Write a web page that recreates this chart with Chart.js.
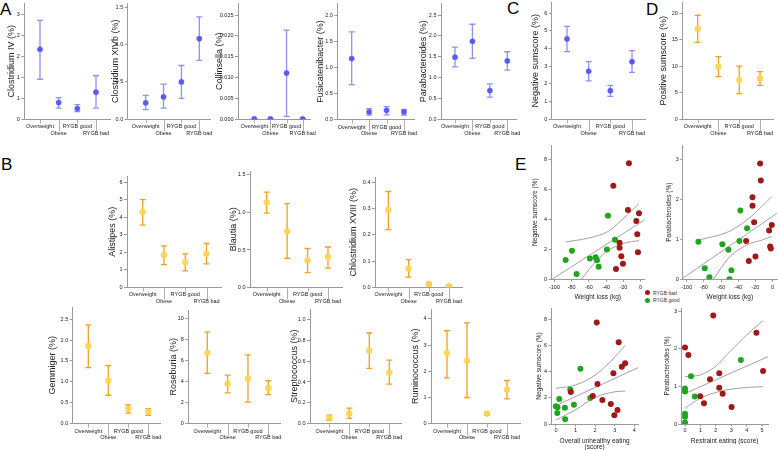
<!DOCTYPE html>
<html>
<head>
<meta charset="utf-8">
<script src="https://cdn.jsdelivr.net/npm/chart.js@4.4.1/dist/chart.umd.min.js"></script>
<style>
  html, body { margin: 0; padding: 0; background: #fff; }
  #fig { position: relative; width: 778px; height: 450px; overflow: hidden; font-family: 'Liberation Sans', Arial, sans-serif; }
  #fig canvas { position: absolute; }
  .letter { position: absolute; font-size: 17px; line-height: 17px; color: #000; }
  .key { position: absolute; font-size: 5px; line-height: 6px; color: #333; white-space: nowrap; }
  .key i { position: absolute; left: -8px; top: 0.5px; width: 5px; height: 5px; border-radius: 50%; }
</style>
</head>
<body>
<div id="fig">
  <div class="letter" style="left:0px;top:0.8px">A</div>
  <div class="letter" style="left:1px;top:156px">B</div>
  <div class="letter" style="left:507px;top:0px">C</div>
  <div class="letter" style="left:646px;top:1px">D</div>
  <div class="letter" style="left:515px;top:156px">E</div>
  <div class="key" style="left:653px;top:289.5px"><i style="background:#a01818"></i>RYGB bad</div>
  <div class="key" style="left:653px;top:297px"><i style="background:#1fa51f"></i>RYGB good</div>
</div>
<script>
// Groups shown on every dot plot
const groups = ['Overweight', 'Obese', 'RYGB good', 'RYGB bad'];

// Panel A (mean with error bar: low / high)
const clostridiumIVMean = [2.01, 0.48, 0.31, 0.78];
const clostridiumIVLow = [1.15, 0.32, 0.22, 0.32];
const clostridiumIVHigh = [2.84, 0.62, 0.42, 1.25];
const clostridiumIVTicks = [0, 0.6, 1.2, 1.8, 2.4, 3.0];
const clostridiumIVTickLabels = ['0', '1', '1', '2', '2', '3'];

const clostridiumXIVbMean = [0.22, 0.30, 0.50, 1.08];
const clostridiumXIVbLow = [0.13, 0.15, 0.28, 0.79];
const clostridiumXIVbHigh = [0.32, 0.47, 0.72, 1.37];
const clostridiumXIVbTicks = [0, 0.5, 1.0, 1.5];
const clostridiumXIVbTickLabels = ['0.0', '0.5', '1.0', '1.5'];

const collinsellaMean = [0.0001, 0.0001, 0.0111, 0.0001];
const collinsellaLow = [0.0, 0.0, 0.0007, 0.0];
const collinsellaHigh = [0.0002, 0.0002, 0.0214, 0.0002];
const collinsellaTicks = [0, 0.005, 0.010, 0.015, 0.020, 0.025];
const collinsellaTickLabels = ['0.000', '0.005', '0.010', '0.015', '0.020', '0.025'];

const fusicatenibacterMean = [1.17, 0.15, 0.18, 0.15];
const fusicatenibacterLow = [0.67, 0.09, 0.095, 0.09];
const fusicatenibacterHigh = [1.68, 0.215, 0.25, 0.20];
const fusicatenibacterTicks = [0, 0.5, 1.0, 1.5, 2.0];
const fusicatenibacterTickLabels = ['0.0', '0.5', '1.0', '1.5', '2.0'];

const parabacteroidesMean = [1.49, 1.87, 0.69, 1.40];
const parabacteroidesLow = [1.26, 1.46, 0.53, 1.18];
const parabacteroidesHigh = [1.73, 2.28, 0.85, 1.62];
const parabacteroidesTicks = [0, 0.5, 1.0, 1.5, 2.0, 2.5];
const parabacteroidesTickLabels = ['0.0', '0.5', '1.0', '1.5', '2.0', '2.5'];

// Panel C and D
const negativeMean = [4.55, 2.72, 1.62, 3.26];
const negativeLow = [3.83, 2.17, 1.30, 2.66];
const negativeHigh = [5.26, 3.26, 1.92, 3.89];
const negativeTicks = [0, 1, 2, 3, 4, 5, 6];
const negativeTickLabels = ['0', '1', '2', '3', '4', '5', '6'];

const positiveMean = [17.0, 9.9, 7.4, 7.7];
const positiveLow = [14.5, 8.05, 4.85, 6.4];
const positiveHigh = [19.6, 11.8, 10.0, 9.0];
const positiveTicks = [0, 5, 10, 15, 20];
const positiveTickLabels = ['0', '5', '10', '15', '20'];

// Panel B
const alistipesMean = [4.29, 1.85, 1.45, 1.94];
const alistipesLow = [3.56, 1.31, 0.95, 1.35];
const alistipesHigh = [5.01, 2.38, 1.92, 2.51];
const alistipesTicks = [0, 1, 2, 3, 4, 5, 6];
const alistipesTickLabels = ['0', '1', '2', '3', '4', '5', '6'];

const blautiaMean = [1.13, 0.75, 0.36, 0.41];
const blautiaLow = [0.99, 0.39, 0.20, 0.26];
const blautiaHigh = [1.27, 1.115, 0.52, 0.54];
const blautiaTicks = [0, 0.5, 1.0, 1.5];
const blautiaTickLabels = ['0.0', '0.5', '1.0', '1.5'];

const chlostridiumMean = [0.295, 0.072, 0.014, 0.005];
const chlostridiumLow = [0.22, 0.04, 0.008, 0.003];
const chlostridiumHigh = [0.365, 0.106, 0.019, 0.007];
const chlostridiumTicks = [0, 0.1, 0.2, 0.3, 0.4];
const chlostridiumTickLabels = ['0.0', '0.1', '0.2', '0.3', '0.4'];

const gemmigerMean = [1.855, 1.03, 0.36, 0.29];
const gemmigerLow = [1.34, 0.68, 0.255, 0.20];
const gemmigerHigh = [2.365, 1.39, 0.45, 0.36];
const gemmigerTicks = [0, 0.5, 1.0, 1.5, 2.0, 2.5];
const gemmigerTickLabels = ['0.0', '0.5', '1.0', '1.5', '2.0', '2.5'];

const roseburiaMean = [6.72, 3.79, 4.30, 3.41];
const roseburiaLow = [4.78, 2.93, 2.04, 2.77];
const roseburiaHigh = [8.69, 4.62, 6.53, 4.08];
const roseburiaTicks = [0, 2, 4, 6, 8, 10];
const roseburiaTickLabels = ['0', '2', '4', '6', '8', '10'];

const streptococcusMean = [0.057, 0.099, 0.70, 0.49];
const streptococcusLow = [0.032, 0.051, 0.53, 0.38];
const streptococcusHigh = [0.083, 0.15, 0.87, 0.61];
const streptococcusTicks = [0, 0.2, 0.4, 0.6, 0.8, 1.0];
const streptococcusTickLabels = ['0.0', '0.2', '0.4', '0.6', '0.8', '1.0'];

const ruminococcusMean = [2.7, 2.4, 0.38, 1.3];
const ruminococcusLow = [1.75, 1.0, 0.33, 0.95];
const ruminococcusHigh = [3.55, 3.85, 0.43, 1.65];
const ruminococcusTicks = [0, 1, 2, 3, 4];
const ruminococcusTickLabels = ['0', '1', '2', '3', '4'];

// Panel E scatter data
const e1BadX = [-13.6, -31.7, -14.7, -1.9, -5.0, -3.9, -24.4, -24.4, -22.4, -3.1, -20.5, -28.6];
const e1BadY = [7.73, 6.24, 4.62, 4.40, 3.89, 3.0, 2.44, 2.11, 1.53, 1.80, 1.04, 0.69];
const e1GoodX = [-37.9, -29.8, -39.1, -79.7, -87.0, -58.8, -52.2, -50.7, -48.7, -74.3];
const e1GoodY = [4.24, 2.64, 1.98, 1.91, 1.29, 1.38, 1.47, 1.27, 0.84, 0.36];
const e1FitX = [-104, 4.6];
const e1FitY = [-0.04, 3.96];
const e1UpperX = [-87, -62, -38, -19, -1.9];
const e1UpperY = [2.49, 2.73, 3.18, 4.1, 5.05];
const e1LowerX = [-69, -50.3, -37.9, -19.3, -1.9];
const e1LowerY = [0, 1.29, 1.91, 2.4, 2.58];

const e2BadX = [-14.4, -13.6, -23.3, -23.3, -21.4, -0.8, -3.9, -30.7, -2.7, -1.9, -19.8, -27.6];
const e2BadY = [2.9, 2.47, 2.05, 1.84, 1.43, 1.36, 1.22, 0.96, 0.82, 0.77, 0.57, 0.46];
const e2GoodX = [-37.4, -29.6, -38.5, -86.4, -58.4, -51.4, -79.0, -47.9, -73.5, -50.2];
const e2GoodY = [1.72, 1.28, 0.96, 0.94, 0.875, 0.74, 0.275, 0.225, 0.05, 0.0];
const e2FitX = [-104.7, 5.1];
const e2FitY = [0.025, 1.65];
const e2UpperX = [-86.4, -51.4, -30, -12.5, -0.8];
const e2UpperY = [0.98, 1.19, 1.48, 1.82, 2.07];
const e2LowerX = [-68.9, -51.4, -30, -12.5, -0.8];
const e2LowerY = [0, 0.525, 0.86, 0.98, 1.07];

const e3BadX = [2.08, 3.20, 3.53, 3.36, 2.93, 2.12, 0.76, 1.88, 2.37, 2.80, 3.14, 2.98];
const e3BadY = [7.74, 6.24, 4.64, 4.37, 3.88, 3.05, 2.44, 2.13, 1.83, 1.52, 1.07, 0.66];
const e3GoodX = [1.25, 0.73, 0.17, 1.75, 0.92, 0.0, 0.08, 0.46, 0.07, 0.47];
const e3GoodY = [4.21, 2.64, 1.90, 1.98, 1.47, 1.35, 1.27, 1.24, 0.84, 0.36];
const e3FitX = [0, 4.2];
const e3FitY = [1.40, 4.31];
const e3UpperX = [0, 0.98, 2.0, 3.02, 3.53];
const e3UpperY = [2.72, 2.97, 3.73, 5.13, 6.0];
const e3LowerX = [0, 0.98, 2.0, 3.02, 3.53];
const e3LowerY = [0.3, 1.07, 2.03, 2.46, 2.51];

const e4BadX = [1.83, 4.63, 0, 0.22, 0.99, 1.62, 2.22, 2.22, 2.44, 1.23, 3.02, 5.06];
const e4BadY = [2.88, 2.42, 2.03, 1.83, 0.74, 1.19, 1.35, 0.96, 0.80, 0.55, 0.45, 1.41];
const e4GoodX = [0.39, 0, 0, 0.63, 3.62, 0, 0, 0];
const e4GoodY = [1.27, 0.94, 0.86, 0.73, 1.70, 0.27, 0.19, 0.04];
const e4FitX = [0, 5.39];
const e4FitY = [0.81, 1.79];
const e4UpperX = [0, 0.97, 1.94, 2.91, 3.99, 5.06];
const e4UpperY = [1.26, 1.30, 1.52, 1.92, 2.36, 2.75];
const e4LowerX = [0, 0.97, 1.94, 2.91, 3.99, 5.06];
const e4LowerY = [0.42, 0.68, 0.83, 0.92, 0.97, 0.99];

const weightTicks = [-100, -80, -60, -40, -20, 0];
const weightTickLabels = ['-100', '-80', '-60', '-40', '-20', '0'];

// Styling
const axisGrey = '#9a9a9a';
const blueTheme = { bar: 'rgba(125,125,242,0.85)', point: '#5a5af4', border: '#5a5af4', radius: 2.6, cap: 3 };
const orangeTheme = { bar: '#f2a024', point: 'rgba(255,214,80,0.9)', border: 'rgba(250,200,70,0.9)', radius: 3, cap: 3 };
const badColor = '#a01818';
const goodColor = '#1fa51f';
const fitColor = '#8a8a8a';

Chart.defaults.font.family = "'Liberation Sans', Arial, sans-serif";
Chart.defaults.color = '#333';
Chart.defaults.animation = false;
Chart.defaults.responsive = false;
Chart.defaults.plugins.legend.display = false;
Chart.defaults.plugins.tooltip.enabled = false;

const fig = document.getElementById('fig');

function addCanvas(left, top, width, height) {
  const c = document.createElement('canvas');
  c.width = width;
  c.height = height;
  c.style.left = left + 'px';
  c.style.top = top + 'px';
  c.style.width = width + 'px';
  c.style.height = height + 'px';
  fig.appendChild(c);
  return c;
}

// Vertical error bars, drawn behind the mean markers
const errorBars = {
  id: 'errorBars',
  beforeDatasetsDraw(chart) {
    const { ctx } = chart;
    const xs = chart.scales.x;
    const ys = chart.scales.y;
    chart.data.datasets.forEach(ds => {
      if (!ds.errLow) return;
      ctx.save();
      ctx.strokeStyle = ds.errColor;
      ctx.lineWidth = 1.3;
      ds.data.forEach((p, i) => {
        const x = xs.getPixelForValue(p.x);
        const y0 = ys.getPixelForValue(ds.errLow[i]);
        const y1 = ys.getPixelForValue(ds.errHigh[i]);
        ctx.beginPath();
        ctx.moveTo(x, y0); ctx.lineTo(x, y1);
        ctx.moveTo(x - ds.cap, y0); ctx.lineTo(x + ds.cap, y0);
        ctx.moveTo(x - ds.cap, y1); ctx.lineTo(x + ds.cap, y1);
        ctx.stroke();
      });
      ctx.restore();
    });
  }
};

// Category ticks: short for the first label row, long for the second
const groupTicks = {
  id: 'groupTicks',
  afterDraw(chart) {
    const { ctx, chartArea } = chart;
    const xs = chart.scales.x;
    ctx.save();
    ctx.strokeStyle = axisGrey;
    ctx.lineWidth = 0.8;
    groups.forEach((g, i) => {
      const x = Math.round(xs.getPixelForValue(i)) + 0.5;
      ctx.beginPath();
      ctx.moveTo(x, chartArea.bottom);
      ctx.lineTo(x, chartArea.bottom + (i % 2 ? 12 : 4));
      ctx.stroke();
    });
    ctx.restore();
  }
};

function createDotChart(box, cfg) {
  const left = Math.floor(box.titleX - 7);
  const top = Math.floor(box.top - 7);
  const width = Math.ceil(box.right - left + 14);
  const height = Math.ceil(box.bottom - top + 24);
  const canvas = addCanvas(left, top, width, height);
  const spacing = (box.p3 - box.p0) / 3;
  const theme = cfg.theme;

  return new Chart(canvas, {
    type: 'scatter',
    data: {
      datasets: [{
        data: cfg.mean.map((v, i) => ({ x: i, y: v })),
        errLow: cfg.low,
        errHigh: cfg.high,
        errColor: theme.bar,
        cap: theme.cap,
        pointRadius: theme.radius,
        pointBackgroundColor: theme.point,
        pointBorderColor: theme.border,
        pointBorderWidth: 0.5
      }]
    },
    options: {
      layout: { padding: { top: box.top - top, right: width - (box.right - left), left: 0, bottom: 0 } },
      scales: {
        x: {
          type: 'linear',
          min: (box.left - box.p0) / spacing,
          max: (box.right - box.p0) / spacing,
          afterBuildTicks: s => { s.ticks = groups.map((g, i) => ({ value: i })); },
          afterFit: s => { s.height = height - (box.bottom - top); },
          grid: { display: false, drawTicks: false },
          border: { color: axisGrey, width: 1 },
          ticks: {
            autoSkip: false, maxRotation: 0, minRotation: 0, padding: 4,
            font: { size: 5.5 }, color: '#222',
            callback: (v, i) => (i % 2 ? ['', groups[i]] : groups[i])
          }
        },
        y: {
          type: 'linear',
          min: 0,
          max: box.yMax,
          afterBuildTicks: s => { s.ticks = cfg.ticks.map(v => ({ value: v })); },
          afterFit: s => { s.width = box.left - left; },
          grid: { drawOnChartArea: false, tickLength: 3, color: axisGrey },
          border: { color: axisGrey, width: 1 },
          ticks: { padding: 1.5, font: { size: 5.5 }, color: '#222', callback: (v, i) => cfg.tickLabels[i] },
          title: {
            display: true, text: cfg.title, color: '#222', font: { size: 9 },
            padding: { top: box.titleX - left - 5.4, bottom: 0 }
          }
        }
      }
    },
    plugins: [errorBars, groupTicks]
  });
}

function pairs(xs, ys) {
  return xs.map((x, i) => ({ x, y: ys[i] }));
}

function createScatterChart(box, cfg) {
  const left = Math.floor(box.titleX - 6);
  const top = Math.floor(box.top - 7);
  const width = Math.ceil(box.right - left + 8);
  const height = Math.ceil(box.bottom - top + box.xH);
  const canvas = addCanvas(left, top, width, height);
  const curve = { showLine: true, pointRadius: 0, borderColor: fitColor, borderWidth: 0.8, fill: false };

  return new Chart(canvas, {
    type: 'scatter',
    data: {
      datasets: [
        { data: pairs(cfg.badX, cfg.badY), pointRadius: 3, pointBackgroundColor: badColor, pointBorderWidth: 0 },
        { data: pairs(cfg.goodX, cfg.goodY), pointRadius: 3, pointBackgroundColor: goodColor, pointBorderWidth: 0 },
        { ...curve, data: pairs(cfg.fitX, cfg.fitY) },
        { ...curve, data: pairs(cfg.upperX, cfg.upperY), cubicInterpolationMode: 'monotone' },
        { ...curve, data: pairs(cfg.lowerX, cfg.lowerY), cubicInterpolationMode: 'monotone' }
      ]
    },
    options: {
      layout: { padding: { top: box.top - top, right: width - (box.right - left), left: 0, bottom: 0 } },
      scales: {
        x: {
          type: 'linear',
          min: box.xMin,
          max: box.xMax,
          afterBuildTicks: s => { s.ticks = cfg.xTicks.map(v => ({ value: v })); },
          afterFit: s => { s.height = height - (box.bottom - top); },
          grid: { drawOnChartArea: false, tickLength: 2.5, color: axisGrey },
          border: { color: axisGrey, width: 1 },
          ticks: { autoSkip: false, maxRotation: 0, padding: box.xPad, font: { size: 5.5 }, color: '#222',
                   callback: (v, i) => cfg.xTickLabels[i] },
          title: { display: true, text: cfg.xTitle, color: '#222', font: { size: 6.5, lineHeight: box.titleLH },
                   padding: { top: 0, bottom: 0 } }
        },
        y: {
          type: 'linear',
          min: 0,
          max: box.yMax,
          afterBuildTicks: s => { s.ticks = cfg.yTicks.map(v => ({ value: v })); },
          afterFit: s => { s.width = box.left - left; },
          grid: { drawOnChartArea: false, tickLength: 2.5, color: axisGrey },
          border: { color: axisGrey, width: 1 },
          ticks: { padding: 1.5, font: { size: 5.5 }, color: '#222', callback: (v, i) => cfg.yTickLabels[i] },
          title: { display: true, text: cfg.yTitle, color: '#222', font: { size: 6.5 },
                   padding: { top: box.titleX - left - 3.9, bottom: 0 } }
        }
      }
    }
  });
}

// Panel layout (page pixels): axis corner, category positions, y range
const layout = {
  a1: { left: 24.3, right: 110, p0: 40, p3: 96, top: 3, bottom: 119.3, yMax: 3.34, titleX: 12 },
  a2: { left: 127.7, right: 210, p0: 145.7, p3: 199.3, top: 3, bottom: 119.3, yMax: 1.557, titleX: 116 },
  a3: { left: 238, right: 310, p0: 254.3, p3: 302.7, top: 3, bottom: 119.3, yMax: 0.0279, titleX: 219.5 },
  a4: { left: 337.3, right: 414, p0: 351.7, p3: 404, top: 3, bottom: 119.8, yMax: 2.23, titleX: 320.7 },
  a5: { left: 441, right: 516, p0: 455, p3: 507.3, top: 3, bottom: 119.3, yMax: 2.79, titleX: 424 },
  c: { left: 551.7, right: 645, p0: 567, p3: 632, top: 2, bottom: 119.3, yMax: 6.64, titleX: 536 },
  d: { left: 682.3, right: 773, p0: 697.7, p3: 760, top: 2, bottom: 119.3, yMax: 22.1, titleX: 664 },
  b1: { left: 127, right: 221, p0: 142.7, p3: 206.5, top: 176, bottom: 287.5, yMax: 6.36, titleX: 112.7 },
  b2: { left: 250, right: 342, p0: 266.7, p3: 328, top: 171, bottom: 287.6, yMax: 1.55, titleX: 233.3 },
  b3: { left: 375, right: 462.7, p0: 388.4, p3: 449, top: 177, bottom: 287.6, yMax: 0.42, titleX: 354 },
  b4: { left: 72.7, right: 160, p0: 88.3, p3: 148.3, top: 307, bottom: 423.7, yMax: 2.79, titleX: 52.7 },
  b5: { left: 188.3, right: 280, p0: 207.3, p3: 268.3, top: 310, bottom: 423.7, yMax: 10.8, titleX: 174 },
  b6: { left: 310, right: 401, p0: 329.3, p3: 389.3, top: 309, bottom: 423.7, yMax: 1.1, titleX: 295 },
  b7: { left: 431, right: 520, p0: 447, p3: 507, top: 309, bottom: 423.7, yMax: 4.38, titleX: 416 },
  e1: { left: 551, right: 644.6, top: 145, bottom: 279.3, xMin: -104, xMax: 4.6, yMax: 8.95, titleX: 535.7, xH: 21.3, xPad: 1.9, titleLH: 1.2 },
  e2: { left: 682.7, right: 777, top: 145, bottom: 279.3, xMin: -104.7, xMax: 5.3, yMax: 3.36, titleX: 669.3, xH: 21.3, xPad: 1.9, titleLH: 1.2 },
  e3: { left: 551, right: 638.3, top: 308, bottom: 424, xMin: -0.25, xMax: 4.2, yMax: 8.85, titleX: 539, xH: 25.7, xPad: 0.5, titleLH: 0.92 },
  e4: { left: 681, right: 768.3, top: 308, bottom: 424, xMin: -0.26, xMax: 5.4, yMax: 3.08, titleX: 667.7, xH: 19.7, xPad: 0.5, titleLH: 0.92 }
};

createDotChart(layout.a1, { title: 'Clostridium IV (%)', mean: clostridiumIVMean, low: clostridiumIVLow, high: clostridiumIVHigh, ticks: clostridiumIVTicks, tickLabels: clostridiumIVTickLabels, theme: blueTheme });
createDotChart(layout.a2, { title: 'Clostridium XIVb (%)', mean: clostridiumXIVbMean, low: clostridiumXIVbLow, high: clostridiumXIVbHigh, ticks: clostridiumXIVbTicks, tickLabels: clostridiumXIVbTickLabels, theme: blueTheme });
createDotChart(layout.a3, { title: 'Collinsella (%)', mean: collinsellaMean, low: collinsellaLow, high: collinsellaHigh, ticks: collinsellaTicks, tickLabels: collinsellaTickLabels, theme: blueTheme });
createDotChart(layout.a4, { title: 'Fusicatenibacter (%)', mean: fusicatenibacterMean, low: fusicatenibacterLow, high: fusicatenibacterHigh, ticks: fusicatenibacterTicks, tickLabels: fusicatenibacterTickLabels, theme: blueTheme });
createDotChart(layout.a5, { title: 'Parabacteroides (%)', mean: parabacteroidesMean, low: parabacteroidesLow, high: parabacteroidesHigh, ticks: parabacteroidesTicks, tickLabels: parabacteroidesTickLabels, theme: blueTheme });
createDotChart(layout.c, { title: 'Negative sumscore (%)', mean: negativeMean, low: negativeLow, high: negativeHigh, ticks: negativeTicks, tickLabels: negativeTickLabels, theme: blueTheme });
createDotChart(layout.d, { title: 'Positive sumscore (%)', mean: positiveMean, low: positiveLow, high: positiveHigh, ticks: positiveTicks, tickLabels: positiveTickLabels, theme: orangeTheme });

createDotChart(layout.b1, { title: 'Alistipes (%)', mean: alistipesMean, low: alistipesLow, high: alistipesHigh, ticks: alistipesTicks, tickLabels: alistipesTickLabels, theme: orangeTheme });
createDotChart(layout.b2, { title: 'Blautia (%)', mean: blautiaMean, low: blautiaLow, high: blautiaHigh, ticks: blautiaTicks, tickLabels: blautiaTickLabels, theme: orangeTheme });
createDotChart(layout.b3, { title: 'Chlostridium XVIII (%)', mean: chlostridiumMean, low: chlostridiumLow, high: chlostridiumHigh, ticks: chlostridiumTicks, tickLabels: chlostridiumTickLabels, theme: orangeTheme });
createDotChart(layout.b4, { title: 'Gemmiger (%)', mean: gemmigerMean, low: gemmigerLow, high: gemmigerHigh, ticks: gemmigerTicks, tickLabels: gemmigerTickLabels, theme: orangeTheme });
createDotChart(layout.b5, { title: 'Roseburia (%)', mean: roseburiaMean, low: roseburiaLow, high: roseburiaHigh, ticks: roseburiaTicks, tickLabels: roseburiaTickLabels, theme: orangeTheme });
createDotChart(layout.b6, { title: 'Streptococcus (%)', mean: streptococcusMean, low: streptococcusLow, high: streptococcusHigh, ticks: streptococcusTicks, tickLabels: streptococcusTickLabels, theme: orangeTheme });
createDotChart(layout.b7, { title: 'Ruminococcus (%)', mean: ruminococcusMean, low: ruminococcusLow, high: ruminococcusHigh, ticks: ruminococcusTicks, tickLabels: ruminococcusTickLabels, theme: orangeTheme });

createScatterChart(layout.e1, { badX: e1BadX, badY: e1BadY, goodX: e1GoodX, goodY: e1GoodY, fitX: e1FitX, fitY: e1FitY, upperX: e1UpperX, upperY: e1UpperY, lowerX: e1LowerX, lowerY: e1LowerY,
  xTicks: weightTicks, xTickLabels: weightTickLabels, yTicks: [0, 2, 4, 6, 8], yTickLabels: ['0', '2', '4', '6', '8'],
  xTitle: 'Weight loss (kg)', yTitle: 'Negative sumscore (%)' });
createScatterChart(layout.e2, { badX: e2BadX, badY: e2BadY, goodX: e2GoodX, goodY: e2GoodY, fitX: e2FitX, fitY: e2FitY, upperX: e2UpperX, upperY: e2UpperY, lowerX: e2LowerX, lowerY: e2LowerY,
  xTicks: weightTicks, xTickLabels: weightTickLabels, yTicks: [0, 1, 2, 3], yTickLabels: ['0', '1', '2', '3'],
  xTitle: 'Weight loss (kg)', yTitle: 'Parabacteroides (%)' });
createScatterChart(layout.e3, { badX: e3BadX, badY: e3BadY, goodX: e3GoodX, goodY: e3GoodY, fitX: e3FitX, fitY: e3FitY, upperX: e3UpperX, upperY: e3UpperY, lowerX: e3LowerX, lowerY: e3LowerY,
  xTicks: [0, 1, 2, 3, 4], xTickLabels: ['0', '1', '2', '3', '4'], yTicks: [0, 2, 4, 6, 8], yTickLabels: ['0', '2', '4', '6', '8'],
  xTitle: ['Overall unhealthy eating', '(score)'], yTitle: 'Negative sumscore (%)' });
createScatterChart(layout.e4, { badX: e4BadX, badY: e4BadY, goodX: e4GoodX, goodY: e4GoodY, fitX: e4FitX, fitY: e4FitY, upperX: e4UpperX, upperY: e4UpperY, lowerX: e4LowerX, lowerY: e4LowerY,
  xTicks: [0, 1, 2, 3, 4, 5], xTickLabels: ['0', '1', '2', '3', '4', '5'], yTicks: [0, 1, 2, 3], yTickLabels: ['0', '1', '2', '3'],
  xTitle: 'Restraint eating (score)', yTitle: 'Parabacteroides (%)' });
</script>
</body>
</html>
